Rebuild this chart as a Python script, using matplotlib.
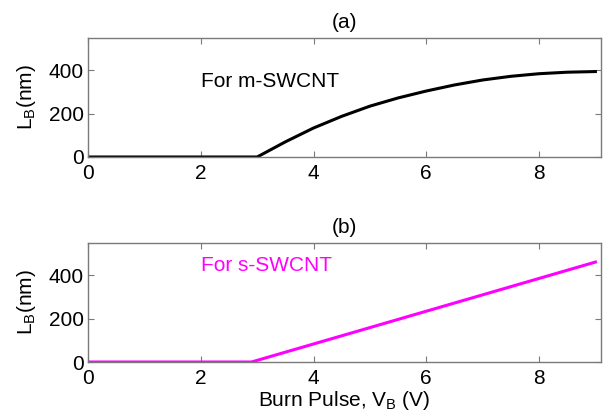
import matplotlib
matplotlib.use("Agg")
import matplotlib.pyplot as plt

# Data
vb_m = [0, 3.0, 3.5, 4.0, 4.5, 5.0, 5.5, 6.0, 6.5, 7.0, 7.5, 8.0, 8.5, 9.0]
lb_m = [0, 0, 70, 134, 188, 235, 273, 305, 333, 356, 373, 385, 392, 395]
vb_s = [0, 2.9, 9.0]
lb_s = [0, 0, 462]
xticks = [0, 2, 4, 6, 8]
yticks = [0, 200, 400]

plt.rcParams['font.family'] = ['Liberation Sans', 'DejaVu Sans']
fig = plt.figure(figsize=(6.1, 4.16), dpi=100)
ax1 = fig.add_axes([0.1443, 0.6226, 0.841, 0.286])
ax2 = fig.add_axes([0.1443, 0.1298, 0.841, 0.286])

spine_col = '#7a7a7a'
for ax, x, y, col, title, lbl, ty in [
    (ax1, vb_m, lb_m, 'black', '(a)', 'For m-SWCNT', 347),
    (ax2, vb_s, lb_s, '#ff00ff', '(b)', 'For s-SWCNT', 448),
]:
    ax.plot(x, y, color=col, lw=2.2, solid_joinstyle='round')
    ax.set_xlim(0, 9.1)
    ax.set_ylim(0, 550)
    ax.set_xticks(xticks)
    ax.set_yticks(yticks)
    ax.tick_params(axis='x', pad=5)
    ax.tick_params(direction='in', top=True, right=True, labelsize=15,
                   length=4, color=spine_col)
    ax.tick_params(axis='y', pad=3)
    for s in ax.spines.values():
        s.set_color(spine_col)
        s.set_linewidth(1.0)
    ax.set_title(title, fontsize=15, pad=7)
    ax.set_ylabel('L$_\\mathregular{B}$(nm)', fontsize=15, labelpad=8)
    ax.text(2.0, ty, lbl, color=col, fontsize=15, va='center', ha='left')

ax2.set_xlabel('Burn Pulse, V$_\\mathregular{B}$ (V)', fontsize=15, labelpad=1)
fig.savefig('out.png', dpi=100)
